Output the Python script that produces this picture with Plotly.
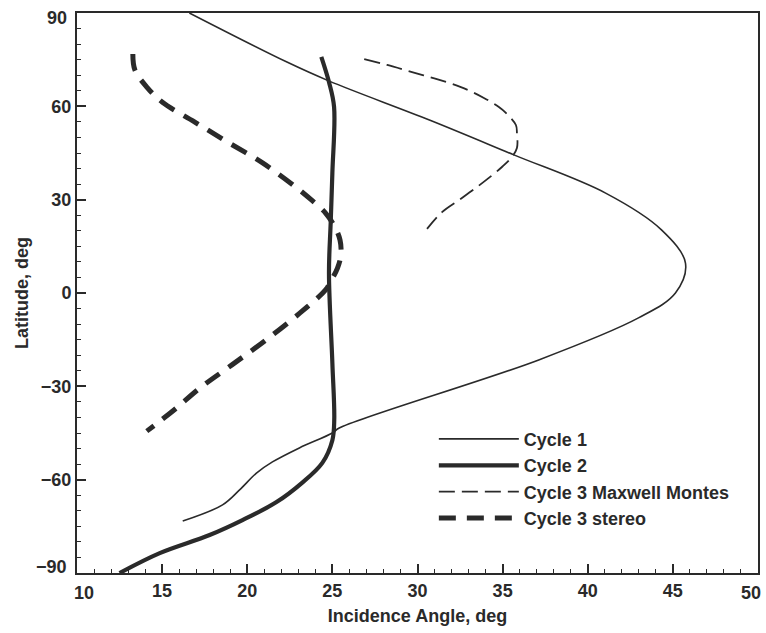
import plotly.graph_objects as go

# Cycle 1 (thin solid)
c1_lat = [90, 74.3, 68.1, 55.6, 44.4, 32.1, 20.3, 9.6, 0.0, -8.0, -21.5,
          -43.4, -45.0, -49.8, -54.3, -57.9, -63.3, -68.1, -73.3]
c1_inc = [16.6, 22.3, 24.82, 30.7, 35.66, 41.05, 44.33, 45.74, 45.15, 42.98, 37.12,
          25.4, 25.0, 23.06, 21.48, 20.54, 19.55, 18.55, 16.21]

# Cycle 2 (thick solid)
c2_lat = [75.9, 67.8, 59.8, 38.6, 22.5, 6.4, -22.5, -40.8, -47.3, -54.6, -61.1, -67.2, -73.0, -77.8, -83.6, -90]
c2_inc = [24.35, 24.8, 25.1, 25.0, 24.9, 24.8, 25.0, 25.11, 25.0, 24.41, 23.2, 21.72, 19.72, 17.79, 14.86, 12.5]

# Cycle 3 Maxwell Montes (thin dashed)
c3m_lat = [75.2, 73.3, 71.0, 68.8, 66.2, 62.7, 59.8, 57.9, 54.0, 51.4, 46.6, 43.7, 40.5, 37.0, 33.8, 29.9, 26.0, 20.6]
c3m_inc = [26.87, 28.22, 29.68, 31.09, 32.55, 33.9, 34.78, 35.19, 35.78, 35.84, 35.84, 35.54, 34.96, 34.19, 33.43, 32.44, 31.44, 30.56]

# Cycle 3 stereo (thick dashed)
c3s_lat = [76.8, 71.7, 66.2, 61.4, 55.0, 48.5, 41.8, 34.4, 29.9, 25.7, 21.2, 17.0, 12.2, 8.0, 4.2, 1.0,
           -6.4, -15.1, -23.1, -30.2, -37.6, -44.4]
c3s_inc = [13.28, 13.4, 14.1, 15.0, 16.9, 18.85, 20.9, 22.77, 23.77, 24.6, 25.15, 25.45, 25.5, 25.3, 24.95, 24.6,
           23.1, 21.1, 19.1, 17.3, 15.7, 14.1]

names = ["Cycle 1", "Cycle 2", "Cycle 3 Maxwell Montes", "Cycle 3 stereo"]
x_ticks = [10, 15, 20, 25, 30, 35, 40, 45, 50]
y_ticks = [-90, -60, -30, 0, 30, 60, 90]

ink = "#2a2a2a"
font = "Liberation Sans, Arial, sans-serif"
fs = 18
bold = dict(family=font, size=fs, color=ink, weight="bold")
sm = 1.0

fig = go.Figure()
fig.add_trace(go.Scatter(x=c1_inc, y=c1_lat, mode="lines", name=names[0], legendgroup="a",
                         line=dict(color=ink, width=1.6, shape="spline", smoothing=sm)))
fig.add_trace(go.Scatter(x=c2_inc, y=c2_lat, mode="lines", name=names[1], legendgroup="b",
                         line=dict(color=ink, width=4.2, shape="spline", smoothing=sm)))
fig.add_trace(go.Scatter(x=c3m_inc, y=c3m_lat, mode="lines", name=names[2], legendgroup="c",
                         line=dict(color=ink, width=1.8, dash="16px,7px", shape="spline", smoothing=sm)))
fig.add_trace(go.Scatter(x=c3s_inc, y=c3s_lat, mode="lines", name=names[3], legendgroup="d",
                         line=dict(color=ink, width=5, dash="17px,11px", shape="spline", smoothing=sm)))

# inner tick labels (end labels are placed as annotations kept inside the frame, as in the original)
x_text = [("" if v in (x_ticks[0], x_ticks[-1]) else str(v)) for v in x_ticks]
y_text = [("" if v in (y_ticks[0], y_ticks[-1]) else str(v).replace("-", "\u2212")) for v in y_ticks]

annotations = [
    dict(x=x_ticks[0], y=0, xref="x", yref="paper", text=str(x_ticks[0]), showarrow=False,
         xanchor="center", yanchor="top", xshift=7, yshift=-8, font=bold),
    dict(x=x_ticks[-1], y=0, xref="x", yref="paper", text=str(x_ticks[-1]), showarrow=False,
         xanchor="center", yanchor="top", xshift=-7, yshift=-8, font=bold),
    dict(x=0, y=y_ticks[-1], xref="paper", yref="y", text=str(y_ticks[-1]), showarrow=False,
         xanchor="right", yanchor="middle", xshift=-8, yshift=-5, font=bold),
    dict(x=0, y=y_ticks[0], xref="paper", yref="y", text=str(y_ticks[0]).replace("-", "\u2212"), showarrow=False,
         xanchor="right", yanchor="middle", xshift=-8, yshift=6, font=bold),
]

fig.update_layout(
    width=766, height=633,
    margin=dict(l=77, r=6, t=13, b=60),
    paper_bgcolor="white", plot_bgcolor="white",
    font=dict(family=font, size=fs, color=ink),
    showlegend=True,
    legend=dict(x=0.524, y=0.272, xanchor="left", yanchor="top",
                bgcolor="rgba(0,0,0,0)", itemwidth=80, tracegroupgap=0,
                traceorder="grouped", font=bold),
    annotations=annotations,
)
fig.update_xaxes(range=[10, 50], tickvals=x_ticks, ticktext=x_text, ticks="inside", ticklen=9, tickwidth=1.5,
                 tickcolor=ink, showline=True, linewidth=2, linecolor=ink, mirror=True,
                 showgrid=False, zeroline=False,
                 minor=dict(dtick=1, ticks="inside", ticklen=4, tickwidth=1.2, tickcolor=ink, showgrid=False),
                 tickfont=bold,
                 title=dict(text="Incidence Angle, deg", standoff=10, font=bold))
fig.update_yaxes(range=[-90, 90], tickvals=y_ticks, ticktext=y_text, ticks="inside", ticklen=9, tickwidth=1.5,
                 tickcolor=ink, showline=True, linewidth=2, linecolor=ink, mirror=True,
                 showgrid=False, zeroline=False,
                 minor=dict(dtick=5, ticks="inside", ticklen=4, tickwidth=1.2, tickcolor=ink, showgrid=False),
                 tickfont=bold,
                 title=dict(text="Latitude, deg", standoff=8, font=bold))

fig.write_html("out.html")
